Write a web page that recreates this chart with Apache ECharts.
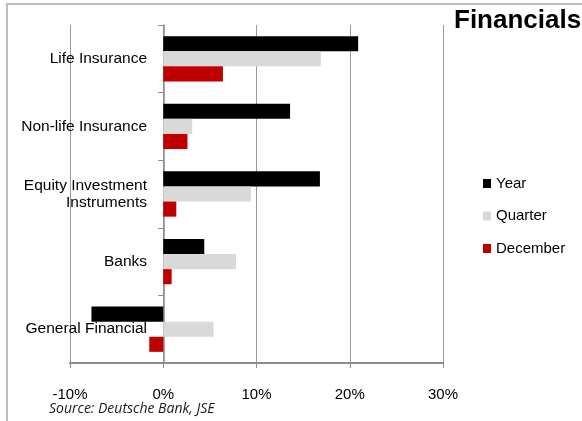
<!DOCTYPE html>
<html>
<head>
<meta charset="utf-8">
<script src="https://cdn.jsdelivr.net/npm/echarts@6/dist/echarts.min.js"></script>
<style>
  html, body { margin: 0; padding: 0; background: #fff; }
  #chart { width: 582px; height: 421px; }
</style>
</head>
<body>
<div id="chart"></div>
<script>
// Sector returns (%), Financials
const categories = ['Life Insurance', 'Non-life Insurance', 'Equity Investment\nInstruments', 'Banks', 'General Financial'];
const yearValues = [20.9, 13.6, 16.8, 4.4, -7.7];
const quarterValues = [16.9, 3.1, 9.4, 7.8, 5.4];
const decemberValues = [6.4, 2.6, 1.4, 0.9, -1.5];
const seriesNames = ['Year', 'Quarter', 'December'];
const xTicks = { min: -10, max: 30, step: 10 };

const font = 'Liberation Sans, Arial, sans-serif';
const colors = ['#000000', '#d9d9d9', '#c00000'];

const chart = echarts.init(document.getElementById('chart'), null, { renderer: 'canvas' });

chart.setOption({
  animation: false,
  backgroundColor: '#ffffff',
  title: {
    text: 'Financials',
    left: 454,
    top: 8,
    padding: 0,
    textStyle: { fontFamily: font, fontSize: 26, fontWeight: 'bold', color: '#000' }
  },
  legend: {
    orient: 'vertical',
    left: 483,
    top: 176,
    padding: 0,
    itemWidth: 8,
    itemHeight: 9,
    itemGap: 17.5,
    icon: 'rect',
    data: seriesNames,
    textStyle: { fontFamily: font, fontSize: 15, color: '#000' }
  },
  grid: { left: 70, right: 139, top: 25, bottom: 58, containLabel: false, outerBoundsMode: 'none' },
  xAxis: {
    type: 'value',
    min: xTicks.min,
    max: xTicks.max,
    interval: xTicks.step,
    axisLine: { show: true, lineStyle: { color: '#8c8c8c', width: 2 } },
    axisTick: { show: true, length: 5, lineStyle: { color: '#8c8c8c' } },
    axisLabel: {
      formatter: '{value}%',
      margin: 24,
      fontFamily: font,
      fontSize: 15,
      color: '#000'
    },
    splitLine: { show: true, lineStyle: { color: '#9a9a9a', width: 1 } }
  },
  yAxis: {
    type: 'category',
    inverse: true,
    data: categories,
    axisLine: { show: true, onZero: true, lineStyle: { color: '#8c8c8c', width: 1.5 } },
    axisTick: { show: true, length: 5, alignWithLabel: false, lineStyle: { color: '#8c8c8c' } },
    axisLabel: {
      // labels sit just left of the zero line rather than at the plot edge
      margin: -77,
      fontFamily: font,
      fontSize: 15.5,
      lineHeight: 17,
      color: '#000',
      align: 'right',
      padding: [2, 0, 0, 0]
    },
    splitLine: { show: false }
  },
  series: [
    { name: seriesNames[0], type: 'bar', data: yearValues, itemStyle: { color: colors[0] }, barGap: '0%', barCategoryGap: '33%' },
    { name: seriesNames[1], type: 'bar', data: quarterValues, itemStyle: { color: colors[1] }, barGap: '0%', barCategoryGap: '33%' },
    { name: seriesNames[2], type: 'bar', data: decemberValues, itemStyle: { color: colors[2] }, barGap: '0%', barCategoryGap: '33%' }
  ],
  graphic: [
    {
      type: 'polyline',
      silent: true,
      shape: { points: [[7, 421], [7, 4], [582, 4]] },
      style: { stroke: '#bdbdbd', lineWidth: 2, fill: null }
    },
    {
      type: 'text',
      left: 49,
      top: 402,
      silent: true,
      style: {
        text: 'Source: Deutsche Bank, JSE',
        fontFamily: 'Open Sans, sans-serif',
        fontStyle: 'italic',
        fontSize: 14,
        fill: '#1a1a1a'
      }
    }
  ]
});
</script>
</body>
</html>
